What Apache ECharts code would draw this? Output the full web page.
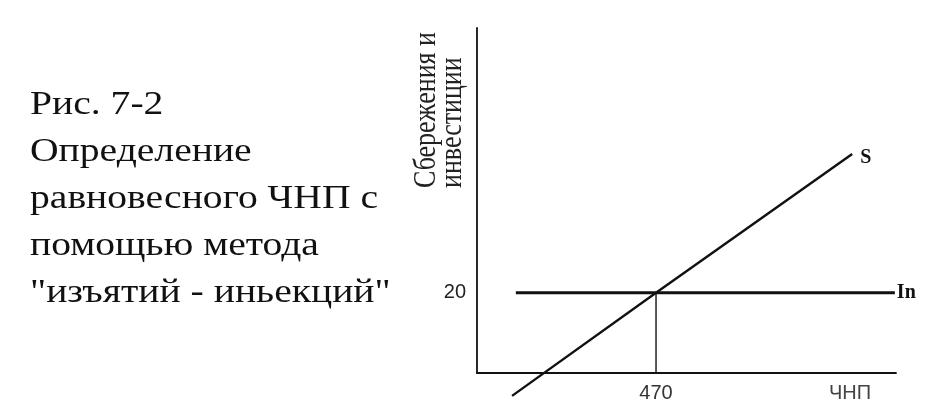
<!DOCTYPE html>
<html>
<head>
<meta charset="utf-8">
<script src="https://cdn.jsdelivr.net/npm/echarts@6/dist/echarts.min.js"></script>
<style>html,body{margin:0;padding:0;background:#fff}#c{width:930px;height:408px}</style>
</head>
<body>
<div id="c"></div>
<script>
// ---- data ----
const titleLines = ['Рис. 7-2', 'Определение', 'равновесного ЧНП с', 'помощью метода', '"изъятий - иньекций"'];
const yAxisNameLines = ['Сбережения и', 'инвестиции'];
const xAxisName = 'ЧНП';
const seriesNames = ['S', 'In'];
const sX = [92, 470, 985];
const sY = [-5.7, 20, 54.6];
const inX = [102, 1097];
const inY = [20, 20];
const eqX = [470, 470];
const eqY = [0, 20];
const xTicks = [470];
const yTicks = [20];
const xRange = [0, 1100];
const yRange = [0, 86];

const zip = (a, b) => a.map((v, i) => [v, b[i]]);

const chart = echarts.init(document.getElementById('c'));
chart.setOption({
  animation: false,
  backgroundColor: '#fff',
  grid: { left: 477, right: 34, top: 28, bottom: 35 },
  xAxis: {
    type: 'value', min: xRange[0], max: xRange[1],
    axisLine: { show: true, lineStyle: { color: '#111', width: 1.8 } },
    axisTick: { show: false },
    splitLine: { show: false },
    axisLabel: { customValues: xTicks, margin: 10, fontSize: 20, color: '#333', fontFamily: 'Liberation Sans' },
    name: xAxisName, nameLocation: 'end', nameGap: -46,
    nameTextStyle: { align: 'center', verticalAlign: 'top', padding: [10, 0, 0, 0], fontSize: 20, color: '#444', fontFamily: 'Liberation Sans' }
  },
  yAxis: {
    type: 'value', min: yRange[0], max: yRange[1],
    axisLine: { show: true, lineStyle: { color: '#111', width: 1.8 } },
    axisTick: { show: false },
    splitLine: { show: false },
    axisLabel: { customValues: yTicks, margin: 11, fontSize: 20, color: '#222', fontFamily: 'Liberation Sans' }
  },
  graphic: [
    {
      type: 'text', x: 30, y: 82, scaleX: 1.2,
      style: { text: titleLines.join('\n'), font: '33px "Liberation Serif"', lineHeight: 47, fill: '#111', textVerticalAlign: 'top', textAlign: 'left' }
    },
    {
      type: 'text', x: 466, y: 188, rotation: Math.PI / 2, scaleY: 1.2,
      style: { text: yAxisNameLines.join('\n'), font: '26px "Liberation Serif"', lineHeight: 22, fill: '#222', textAlign: 'left', textVerticalAlign: 'bottom' }
    }
  ],
  series: [
    {
      name: seriesNames[0], type: 'line', data: zip(sX, sY), clip: false, symbol: 'none',
      lineStyle: { color: '#111', width: 2.4 },
      endLabel: { show: true, formatter: seriesNames[0], distance: 8, offset: [0, 4], fontSize: 20, fontWeight: 'bold', fontFamily: 'Liberation Serif', color: '#111' }
    },
    {
      name: seriesNames[1], type: 'line', data: zip(inX, inY), clip: false, symbol: 'none',
      lineStyle: { color: '#111', width: 3 },
      endLabel: { show: true, formatter: 'In', distance: 2, offset: [0, 0], fontSize: 20, fontWeight: 'bold', fontFamily: 'Liberation Serif', color: '#111' }
    },
    {
      name: 'eq', type: 'line', data: zip(eqX, eqY), clip: false, symbol: 'none',
      lineStyle: { color: '#111', width: 1.4 }
    }
  ]
});
</script>
</body>
</html>
